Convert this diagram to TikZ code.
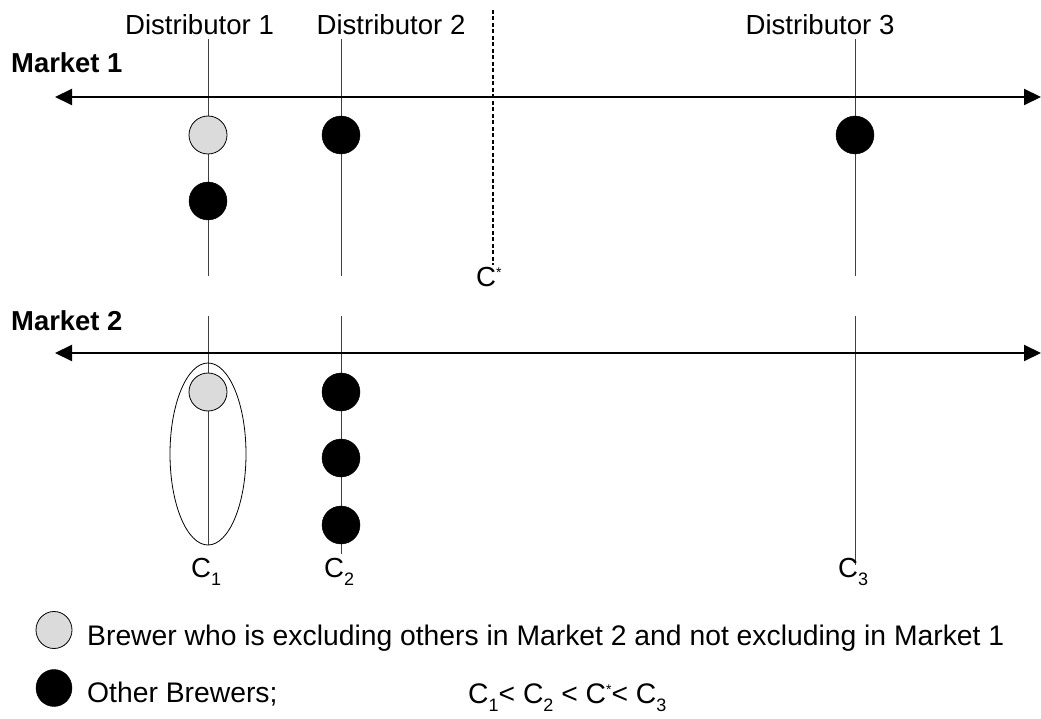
\documentclass[tikz,border=0pt]{standalone}
\usepackage{fontspec}
\setmainfont{Liberation Sans}
\usetikzlibrary{arrows.meta,shapes.geometric}
\newcommand{\mysub}[1]{\raisebox{-8pt}{\fontsize{18}{18}\selectfont #1}}
\newcommand{\mystar}{\raisebox{9pt}{\fontsize{14}{14}\selectfont *}}
\begin{document}
\begin{tikzpicture}[x=1pt,y=-1pt,
  txt/.style={font=\fontsize{27.6}{32}\selectfont, inner sep=0pt},
  ltxt/.style={font=\fontsize{28.3}{32}\selectfont, inner sep=0pt},
  bold/.style={font=\fontsize{27.4}{32}\selectfont\bfseries, inner sep=0pt},
  axis/.style={line width=2pt, {Triangle[length=17pt,width=16pt]}-{Triangle[length=17pt,width=16pt]}},
  vline/.style={line width=1pt, black!75},
  dline/.style={line width=1.4pt, dash pattern=on 4pt off 2.5pt},
  blk/.style={circle, fill=black, draw=black, minimum size=38pt, inner sep=0pt},
  gry/.style={circle, fill=black!14, draw=black, line width=0.8pt, minimum size=38pt, inner sep=0pt},
  lgd/.style={ellipse, minimum width=36pt, minimum height=37pt, inner sep=0pt}]
\useasboundingbox (0,0) rectangle (1041,719);
\fill[white] (0,0) rectangle (1041,719);

% coordinates
\coordinate (m1l) at (55,97);
\coordinate (m1r) at (1041,97);
\coordinate (m2l) at (55,353);
\coordinate (m2r) at (1041,353);
\coordinate (d1t) at (208,39);  \coordinate (d1b) at (208,276);
\coordinate (d2t) at (341,39);  \coordinate (d2b) at (341,276);
\coordinate (d3t) at (855,39);  \coordinate (d3b) at (855,276);
\coordinate (e1t) at (208,316); \coordinate (e1b) at (208,545);
\coordinate (e2t) at (341,316); \coordinate (e2b) at (341,554);
\coordinate (e3t) at (855,316); \coordinate (e3b) at (855,565);
\coordinate (cst) at (493,10);  \coordinate (csb) at (493,265);

% vertical lines
\draw[vline] (d1t) -- (d1b);
\draw[vline] (d2t) -- (d2b);
\draw[vline] (d3t) -- (d3b);
\draw[vline] (e1t) -- (e1b);
\draw[vline] (e2t) -- (e2b);
\draw[vline] (e3t) -- (e3b);
\draw[dline] (cst) -- (csb);

% axes
\draw[axis] (m1l) -- (m1r);
\draw[axis] (m2l) -- (m2r);

% labels
\node[txt, anchor=base] (lab1) at (199.5,35) {Distributor 1};
\node[txt, anchor=base] (lab2) at (391,35) {Distributor 2};
\node[txt, anchor=base] (lab3) at (820,35) {Distributor 3};
\node[bold, anchor=base west] (mk1) at (11,73) {Market 1};
\node[bold, anchor=base west] (mk2) at (11,330) {Market 2};
\node[txt, anchor=base west] (cs) at (476,287) {C\mystar};
\node[txt, anchor=base west] (c1) at (191,577) {C\mysub{1}};
\node[txt, anchor=base west] (c2) at (324,577) {C\mysub{2}};
\node[txt, anchor=base west] (c3) at (838,577) {C\mysub{3}};

% market 1 brewers
\node[gry] (a1) at (208,135) {};
\node[blk] (a2) at (208,201) {};
\node[blk] (b1) at (341,135) {};
\node[blk] (g1) at (855,135) {};

% market 2 brewers
\draw[line width=0.8pt] (208,454) ellipse [x radius=38, y radius=91];
\node[gry] (p1) at (208,392) {};
\node[blk] (q1) at (341,392) {};
\node[blk] (q2) at (341,458) {};
\node[blk] (q3) at (341,525) {};

% legend
\node[lgd, fill=black!14, draw=black, line width=0.8pt] (lg1) at (54,630) {};
\node[lgd, fill=black, draw=black] (lg2) at (54,688) {};
\node[ltxt, anchor=base west] (lt1) at (87,645) {Brewer who is excluding others in Market 2 and not excluding in Market 1};
\node[ltxt, anchor=base west] (lt2) at (87,702) {Other Brewers;};
\node[ltxt, anchor=base west] (lt3) at (468,703) {C\mysub{1}< C\mysub{2} < C\mystar< C\mysub{3}};
\end{tikzpicture}
\end{document}
